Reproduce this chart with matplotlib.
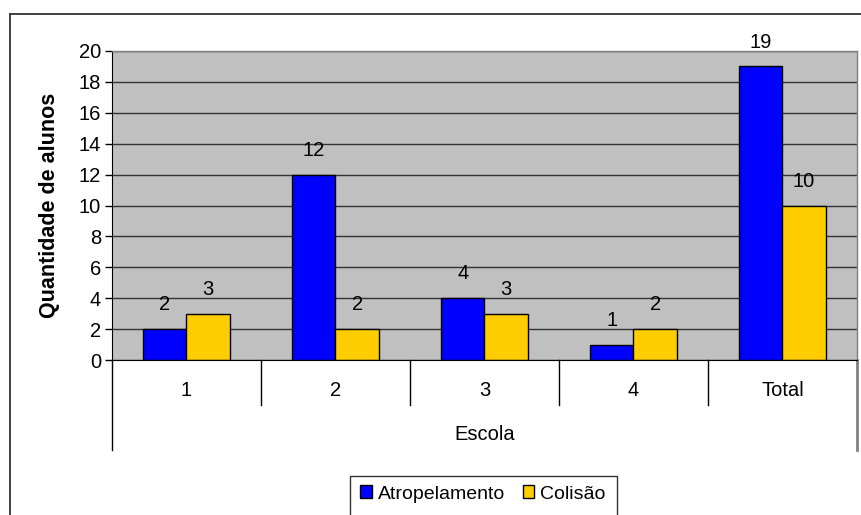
import numpy as np
import matplotlib.pyplot as plt
from matplotlib.lines import Line2D
from matplotlib.patches import Rectangle

plt.rcParams['font.family'] = ['Liberation Sans', 'DejaVu Sans']

escolas = ['1', '2', '3', '4', 'Total']
atropelamento = [2, 12, 4, 1, 19]
colisao = [3, 2, 3, 2, 10]
y_ticks = list(range(0, 21, 2))

W, H = 862, 515
fig = plt.figure(figsize=(W / 100, H / 100), dpi=100)

# moldura externa do gráfico (direita e baixo ficam fora da imagem)
fig.add_artist(Line2D([10 / W, 1], [1 - 14 / H, 1 - 14 / H], color='#333333', lw=1.3,
                      transform=fig.transFigure))
fig.add_artist(Line2D([10 / W, 10 / W], [0, 1 - 14 / H], color='#333333', lw=1.3,
                      transform=fig.transFigure))

ax = fig.add_axes([112 / W, 1 - 360 / H, 745 / W, 309 / H])
ax.set_facecolor('#C0C0C0')

x = np.arange(len(escolas))
w = 0.29
b1 = ax.bar(x - w / 2, atropelamento, w, color='#0000FF', edgecolor='black', lw=1.0,
            label='Atropelamento', zorder=3)
b2 = ax.bar(x + w / 2, colisao, w, color='#FFCC00', edgecolor='black', lw=1.0,
            label='Colisão', zorder=3)

for bars, vals in ((b1, atropelamento), (b2, colisao)):
    for r, v in zip(bars, vals):
        ax.annotate(str(v), (r.get_x() + r.get_width() / 2, v), xytext=(0, 13.5),
                    textcoords='offset points', ha='center', va='baseline',
                    fontsize=14.5, clip_on=False)

ax.set_xlim(-0.5, len(escolas) - 0.5)
ax.set_ylim(0, 20)
ax.set_yticks(y_ticks)
ax.tick_params(axis='y', labelsize=14.5, length=5, width=1, direction='out', pad=3)
ax.set_xticks([])
ax.yaxis.grid(True, color='#333333', lw=1.0, zorder=1)
ax.set_axisbelow(True)

for s in ('top', 'right'):
    ax.spines[s].set_color('#808080')
    ax.spines[s].set_linewidth(1.0)
ax.spines['left'].set_color('black')
ax.spines['bottom'].set_color('black')
ax.spines['bottom'].set_zorder(4)

ax.set_ylabel('Quantidade de alunos', fontsize=15.5, fontweight='bold', labelpad=13)

# tabela do eixo de categorias
tr = ax.get_xaxis_transform()
sep_short = -45 / 309
sep_long = -90 / 309
for xi in np.arange(0.5, len(escolas) - 1, 1.0):
    ax.plot([xi, xi], [0, sep_short], color='black', lw=1.0, transform=tr, clip_on=False)
ax.plot([-0.5, -0.5], [0, sep_long], color='black', lw=1.0, transform=tr, clip_on=False)
ax.plot([len(escolas) - 0.5] * 2, [0, sep_long], color='#808080', lw=2.0, transform=tr,
        clip_on=False)
for xi, lab in zip(x, escolas):
    ax.text(xi, -30 / 309, lab, transform=tr, ha='center', va='center', fontsize=14.5)
ax.text(np.mean(x), -75 / 309, 'Escola', transform=tr, ha='center', va='center',
        fontsize=14.5)

# legenda
fig.add_artist(Rectangle((350 / W, -0.01), 267 / W, (1 - 476 / H) + 0.01,
                         transform=fig.transFigure, facecolor='white', edgecolor='#333333',
                         lw=1.0))
leg = fig.legend(handles=[b1, b2], loc='center', bbox_to_anchor=(483 / W, 1 - 494 / H),
                 ncol=2, frameon=False, fontsize=14, handlelength=0.6, handleheight=0.6,
                 handletextpad=0.3, columnspacing=0.9)

fig.savefig('out.png', dpi=100, facecolor='white')
